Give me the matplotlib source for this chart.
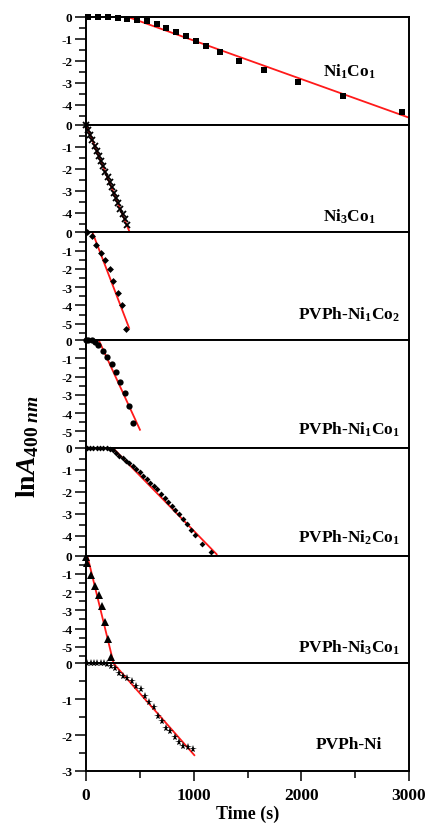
import matplotlib
matplotlib.use("Agg")
import matplotlib.pyplot as plt
from matplotlib.ticker import MultipleLocator

plt.rcParams['font.family'] = ['Liberation Serif', 'DejaVu Serif']
plt.rcParams['font.weight'] = 'bold'
plt.rcParams['axes.unicode_minus'] = False
plt.rcParams['mathtext.fontset'] = 'custom'
plt.rcParams['mathtext.rm'] = 'Liberation Serif:bold'
plt.rcParams['mathtext.bf'] = 'Liberation Serif:bold'
plt.rcParams['mathtext.it'] = 'Liberation Serif:italic:bold'

# panel labels (top to bottom)
labels = [r'Ni$_\mathbf{1}$Co$_\mathbf{1}$', r'Ni$_\mathbf{3}$Co$_\mathbf{1}$',
          r'PVPh-Ni$_\mathbf{1}$Co$_\mathbf{2}$', r'PVPh-Ni$_\mathbf{1}$Co$_\mathbf{1}$',
          r'PVPh-Ni$_\mathbf{2}$Co$_\mathbf{1}$', r'PVPh-Ni$_\mathbf{3}$Co$_\mathbf{1}$',
          'PVPh-Ni']

# Ni1Co1
t1 = [21, 114, 207, 294, 383, 471, 566, 656, 746, 836, 925, 1018, 1114, 1244, 1420, 1656, 1972, 2390, 2938]
y1 = [0, 0, 0, -0.03, -0.08, -0.15, -0.2, -0.32, -0.48, -0.67, -0.85, -1.09, -1.32, -1.59, -2.0, -2.42, -2.98, -3.6, -4.32]
fit1_t = [390, 3000]
fit1_y = [0, -4.58]

# Ni3Co1
t2 = [0, 20, 40, 60, 80, 100, 120, 140, 160, 180, 200, 220, 240, 260, 280, 300, 320, 340, 360, 380]
y2 = [0, -0.22, -0.47, -0.70, -0.95, -1.18, -1.42, -1.67, -1.90, -2.15, -2.38, -2.62, -2.85, -3.10,
      -3.33, -3.57, -3.82, -4.05, -4.28, -4.55]
fit2_t = [0, 402]
fit2_y = [0, -4.85]

# PVPh-Ni1Co2
t3 = [12, 55, 93, 136, 176, 220, 254, 298, 337, 376]
y3 = [0, -0.2, -0.68, -1.15, -1.52, -2.0, -2.65, -3.3, -3.95, -5.27]
fit3_t = [60, 400]
fit3_y = [0, -5.23]

# PVPh-Ni1Co1
t4 = [0, 22, 53, 84, 114, 155, 198, 241, 279, 316, 359, 396, 433]
y4 = [0, 0, -0.02, -0.09, -0.29, -0.57, -0.93, -1.3, -1.76, -2.29, -2.89, -3.59, -4.54]
fit4_t = [118, 501]
fit4_y = [0, -4.91]

# PVPh-Ni2Co1
t5 = [6, 37, 68, 99, 130, 161, 192, 223, 254, 279, 310, 340, 371, 402, 433, 464, 501, 533,
      564, 594, 631, 662, 700, 731, 761, 799, 830, 867, 898, 935, 972, 1009, 1077, 1158]
y5 = [0, 0, 0, 0, 0, -0.02, -0.03, -0.06, -0.12, -0.23, -0.35, -0.46, -0.58, -0.70, -0.81,
      -0.97, -1.12, -1.27, -1.43, -1.58, -1.73, -1.88, -2.08, -2.27, -2.45, -2.65, -2.85,
      -3.03, -3.22, -3.46, -3.72, -3.95, -4.38, -4.75]
fit5_t = [248, 1213]
fit5_y = [0, -4.84]

# PVPh-Ni3Co1
t6 = [0, 12, 46, 84, 118, 149, 173, 204, 232]
y6 = [-0.07, -0.4, -1.04, -1.65, -2.18, -2.78, -3.66, -4.58, -5.55]
fit6_t = [12, 256]
fit6_y = [0, -5.9]

# PVPh-Ni
t7 = [12, 43, 74, 105, 136, 167, 198, 229, 269, 310, 347, 384, 424, 464, 508, 551, 588, 631,
      665, 706, 743, 780, 823, 860, 904, 950, 990]
y7 = [0, 0, 0, 0, 0, 0, -0.01, -0.07, -0.12, -0.26, -0.35, -0.40, -0.49, -0.63, -0.72, -0.91,
      -1.09, -1.23, -1.46, -1.60, -1.79, -1.88, -2.06, -2.18, -2.30, -2.34, -2.39]
fit7_t = [254, 1006]
fit7_y = [0, -2.56]

series = [(t1, y1, fit1_t, fit1_y), (t2, y2, fit2_t, fit2_y), (t3, y3, fit3_t, fit3_y),
          (t4, y4, fit4_t, fit4_y), (t5, y5, fit5_t, fit5_y), (t6, y6, fit6_t, fit6_y),
          (t7, y7, fit7_t, fit7_y)]
ylims = [-4.9, -4.9, -5.9, -5.9, -4.9, -5.9, -3.0]
markers = [('s', 4.2, 0), ('x', 4.5, 1.3), ('D', 3.5, 0), ('o', 4.5, 0),
           ('D', 3.0, 0), ('^', 5.5, 0), ('*', 5.8, 0)]
label_y = [0.50, 0.15, 0.24, 0.18, 0.17, 0.15, 0.25]

fig, axs = plt.subplots(7, 1, figsize=(4.29, 8.29), dpi=100, sharex=True)
fig.subplots_adjust(left=0.2005, right=0.9534, top=0.9783, bottom=0.0688, hspace=0)

for i, ax in enumerate(axs):
    t, y, ft, fy = series[i]
    m, ms, mew = markers[i]
    ax.plot(ft, fy, color='#ff1a1a', lw=1.3, zorder=2)
    ax.plot(t, y, linestyle='none', marker=m, ms=ms, mew=mew, color='black',
            mfc='black', mec='black', zorder=3, clip_on=False)
    ax.set_xlim(0, 3000)
    ax.set_ylim(ylims[i], 0)
    ax.yaxis.set_major_locator(MultipleLocator(1))
    ax.yaxis.set_minor_locator(MultipleLocator(0.5))
    ax.xaxis.set_major_locator(MultipleLocator(1000))
    ax.xaxis.set_minor_locator(MultipleLocator(500))
    for s in ax.spines.values():
        s.set_linewidth(1.4)
    ax.tick_params(axis='y', which='major', direction='out', length=8, width=1.1,
                   labelsize=9.5, pad=2)
    ax.tick_params(axis='y', which='minor', direction='out', length=5, width=1.1)
    ax.tick_params(axis='x', which='both', bottom=False, top=False, labelbottom=False)
    ax.text(0.815, label_y[i], labels[i], transform=ax.transAxes, ha='center',
            va='center', fontsize=12.5, fontweight='bold')

axb = axs[-1]
axb.tick_params(axis='x', which='major', bottom=True, labelbottom=True, direction='out',
                length=7.5, width=1.1, labelsize=12.5, pad=4)
axb.tick_params(axis='x', which='minor', bottom=True, direction='out', length=5, width=1.1)
axb.set_xlabel('Time (s)', fontsize=13, fontweight='bold', labelpad=1)

fig.text(0.065, 0.461, r'ln$\mathit{A}_{\mathit{400\ nm}}$', rotation=90, ha='center',
         va='center', fontsize=20, fontweight='bold')

fig.savefig('out.png', dpi=100)
